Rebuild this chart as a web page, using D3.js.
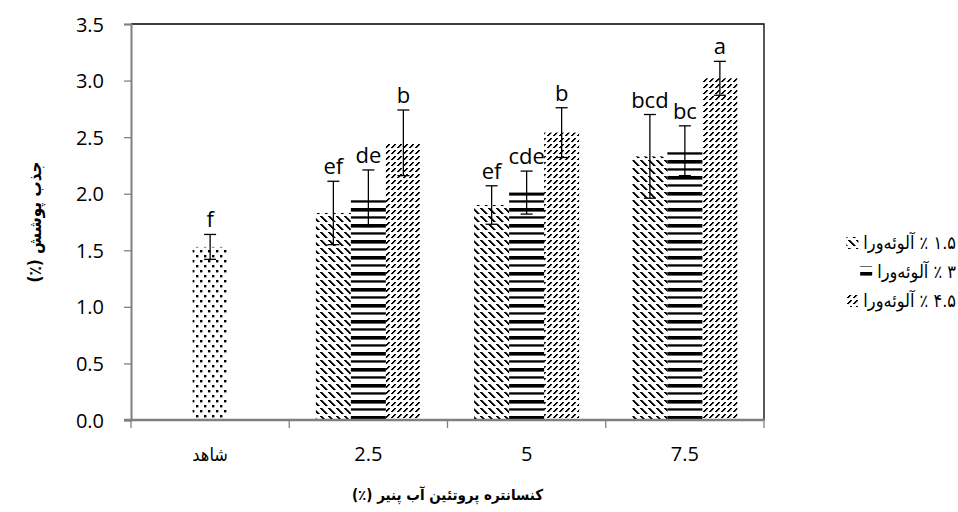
<!DOCTYPE html>
<html>
<head>
<meta charset="utf-8">
<script src="https://cdn.jsdelivr.net/npm/d3@7"></script>
<style>
  body { margin: 0; background: #fff; }
  .tick-label { font-family: "Open Sans", sans-serif; font-size: 20px; fill: #000; }
  .letter { font-family: "Open Sans", sans-serif; font-size: 22px; fill: #000; }
  .fa { font-family: "DejaVu Sans Condensed", "DejaVu Sans", sans-serif; }
</style>
</head>
<body>
<svg id="chart"></svg>
<script>
const categories = ["شاهد", "2.5", "5", "7.5"];
const seriesNames = ["۱.۵ ٪ آلوئه‌ورا", "۳ ٪ آلوئه‌ورا", "۴.۵ ٪ آلوئه‌ورا"];
const yTicks = [0, 0.5, 1.0, 1.5, 2.0, 2.5, 3.0, 3.5];

// control (شاهد) has a single bar
const controlValue = 1.53;
const controlError = 0.11;
const controlLetter = "f";

// groups 2.5, 5, 7.5
const values15 = [1.83, 1.90, 2.33];
const errors15 = [0.28, 0.17, 0.37];
const letters15 = ["ef", "ef", "bcd"];

const values3 = [1.96, 2.01, 2.38];
const errors3 = [0.25, 0.19, 0.22];
const letters3 = ["de", "cde", "bc"];

const values45 = [2.45, 2.54, 3.02];
const errors45 = [0.29, 0.22, 0.15];
const letters45 = ["b", "b", "a"];

const width = 958, height = 512;
const marginLeft = 131, marginRight = 194, marginTop = 24, marginBottom = 92;

const svg = d3.select("#chart")
    .attr("width", width)
    .attr("height", height)
    .attr("viewBox", [0, 0, width, height]);

// patterns
const defs = svg.append("defs");
const cell = (p, x, y, w, h) =>
    p.append("rect").attr("x", x).attr("y", y).attr("width", w).attr("height", h).attr("fill", "#000");

const pDots = defs.append("pattern").attr("id", "p-dots")
    .attr("patternUnits", "userSpaceOnUse").attr("width", 8).attr("height", 10);
cell(pDots, 0, 0, 2.4, 2.4);
cell(pDots, 4, 5, 2.4, 2.4);

// dashed downward diagonal
const pDown = defs.append("pattern").attr("id", "p-down")
    .attr("patternUnits", "userSpaceOnUse").attr("width", 8).attr("height", 8);
d3.range(6).forEach(r => cell(pDown, r, r, 2.6, 1.05));

const pHoriz = defs.append("pattern").attr("id", "p-horiz")
    .attr("patternUnits", "userSpaceOnUse").attr("width", 8).attr("height", 16);
cell(pHoriz, 0, 0, 8, 3.6);
cell(pHoriz, 0, 8.3, 8, 2.3);

// dashed upward diagonal
const pUp = defs.append("pattern").attr("id", "p-up")
    .attr("patternUnits", "userSpaceOnUse").attr("width", 6).attr("height", 6);
d3.range(4).forEach(r => cell(pUp, 4 - r, r, 2.2, 1.05));

const seriesFills = ["url(#p-down)", "url(#p-horiz)", "url(#p-up)"];

// scales
const x = d3.scaleBand(categories, [marginLeft, width - marginRight]);
const y = d3.scaleLinear([0, 3.5], [height - marginBottom, marginTop]);
const barWidth = 35;
const xSub = d3.scaleBand([0, 1, 2], [0, barWidth * 3]);

// data rows
const bars = [{cat: categories[0], offset: -barWidth / 2, value: controlValue, error: controlError, letter: controlLetter, fill: "url(#p-dots)"}];
[[values15, errors15, letters15], [values3, errors3, letters3], [values45, errors45, letters45]].forEach(([vals, errs, lets], s) => {
    vals.forEach((v, i) => {
        bars.push({cat: categories[i + 1], offset: xSub(s) - barWidth * 1.5, value: v, error: errs[i], letter: lets[i], fill: seriesFills[s]});
    });
});
const cx = d => x(d.cat) + x.bandwidth() / 2 + d.offset;

// frame (top/right)
svg.append("path")
    .attr("d", `M${marginLeft},${marginTop}H${width - marginRight}V${height - marginBottom}`)
    .attr("fill", "none").attr("stroke", "#000").attr("stroke-width", 1.3);

svg.selectAll(".bar")
    .data(bars)
    .join("rect")
    .attr("class", "bar")
    .attr("x", d => cx(d))
    .attr("width", barWidth)
    .attr("y", d => y(d.value))
    .attr("height", d => y(0) - y(d.value))
    .attr("fill", d => d.fill);

// error bars
const err = svg.append("g").attr("stroke", "#000").attr("stroke-width", 1.3);
bars.forEach(d => {
    const mx = cx(d) + barWidth / 2;
    err.append("line").attr("x1", mx).attr("x2", mx).attr("y1", y(d.value - d.error)).attr("y2", y(d.value + d.error));
    err.append("line").attr("x1", mx - 6).attr("x2", mx + 6).attr("y1", y(d.value + d.error)).attr("y2", y(d.value + d.error));
    err.append("line").attr("x1", mx - 6).attr("x2", mx + 6).attr("y1", y(d.value - d.error)).attr("y2", y(d.value - d.error));
});

svg.selectAll(".letter")
    .data(bars)
    .join("text")
    .attr("class", "letter")
    .attr("text-anchor", "middle")
    .attr("x", d => cx(d) + barWidth / 2)
    .attr("y", d => y(d.value + d.error) - 7)
    .text(d => d.letter);

// y axis
const yAxis = svg.append("g")
    .attr("transform", `translate(${marginLeft},0)`)
    .call(d3.axisLeft(y).tickValues(yTicks).tickFormat(d3.format(".1f")).tickSize(7).tickPadding(20));
yAxis.select(".domain").attr("stroke", "#808080").attr("stroke-width", 2);
yAxis.selectAll(".tick line").attr("stroke", "#808080").attr("stroke-width", 1.3);
yAxis.selectAll(".tick text").attr("class", "tick-label").attr("dy", "0.35em");

// x axis with ticks at category boundaries
const xAxisG = svg.append("g").attr("transform", `translate(0,${height - marginBottom})`);
xAxisG.append("line")
    .attr("x1", marginLeft - 7).attr("x2", width - marginRight)
    .attr("stroke", "#808080").attr("stroke-width", 2.5);
const bounds = categories.map(c => x(c)).concat([x(categories[categories.length - 1]) + x.bandwidth()]);
xAxisG.selectAll(".xtick")
    .data(bounds)
    .join("line")
    .attr("x1", d => d).attr("x2", d => d)
    .attr("y1", 0).attr("y2", 8)
    .attr("stroke", "#808080").attr("stroke-width", 1.3);
xAxisG.selectAll(".xlabel")
    .data(categories)
    .join("text")
    .attr("class", (d, i) => i === 0 ? "fa" : "tick-label")
    .attr("text-anchor", "middle")
    .attr("x", d => x(d) + x.bandwidth() / 2)
    .attr("y", 41)
    .style("font-size", (d, i) => i === 0 ? "18px" : "20px")
    .text(d => d);

// axis titles
svg.append("text")
    .attr("class", "fa")
    .attr("text-anchor", "middle")
    .attr("direction", "rtl")
    .attr("transform", `translate(41,${(marginTop + height - marginBottom) / 2}) rotate(-90)`)
    .style("font-size", "17px").style("font-weight", "bold")
    .text("جذب پوشش (٪)");

svg.append("text")
    .attr("class", "fa")
    .attr("text-anchor", "middle")
    .attr("direction", "rtl")
    .attr("x", (marginLeft + width - marginRight) / 2)
    .attr("y", 500)
    .style("font-size", "15px").style("font-weight", "bold")
    .text("کنسانتره پروتئین آب پنیر (٪)");

// legend
const legend = svg.append("g");
seriesNames.forEach((name, i) => {
    const ly = 243 + i * 29;
    const t = legend.append("text")
        .attr("class", "fa")
        .attr("direction", "rtl")
        .attr("text-anchor", "start")
        .attr("x", 956).attr("y", ly + 6)
        .style("font-size", "18px")
        .text(name);
    const tw = t.node().getComputedTextLength();
    legend.append("rect")
        .attr("x", 956 - tw - 17).attr("y", ly - 6).attr("width", 12).attr("height", 12)
        .attr("fill", seriesFills[i]);
});
</script>
</body>
</html>
